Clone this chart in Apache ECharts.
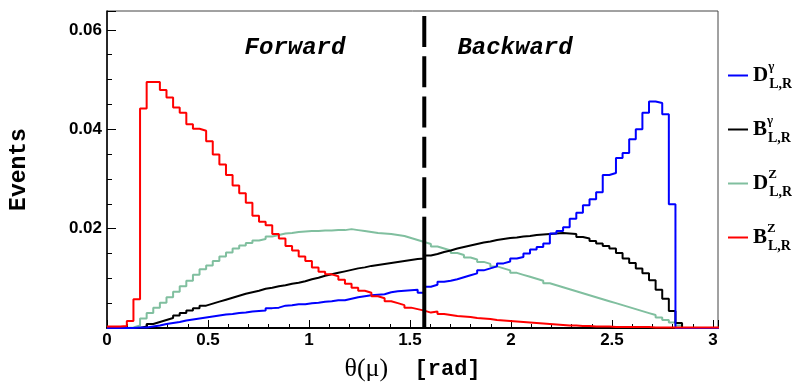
<!DOCTYPE html>
<html>
<head>
<meta charset="utf-8">
<script src="https://cdn.jsdelivr.net/npm/echarts@6/dist/echarts.min.js"></script>
<style>
  html, body { margin: 0; padding: 0; background: #fff; }
  #main { width: 792px; height: 383px; }
</style>
</head>
<body>
<div id="main"></div>
<script>
const chart = echarts.init(document.getElementById('main'))

// histogram bins: 96 bins over [0, pi], only the visible part kept
const binWidth = Math.PI / 96

const dGamma = [0,0,0,0,0.0001,0.0001,0.0003,0.0005,0.0008,0.0010,0.0012,0.0015,0.0017,0.0019,0.0021,0.0023,0.0025,0.0027,0.0028,0.0030,
  0.0031,0.0033,0.0034,0.0035,0.0040,0.0041,0.0045,0.0046,0.0048,0.0048,0.0050,0.0051,0.0053,0.0054,0.0056,0.0056,0.0059,0.0062,0.0064,0.0066,
  0.0067,0.0068,0.0072,0.0074,0.0075,0.0076,0.0077,0.0071,0.0083,0.0087,0.0093,0.0095,0.0098,0.0102,0.0106,0.0110,0.0116,0.0120,0.0124,0.0130,
  0.0134,0.0140,0.0143,0.0150,0.0158,0.0163,0.0170,0.0190,0.0195,0.0203,0.0220,0.0232,0.0247,0.0259,0.0273,0.0308,0.0312,0.0342,0.0352,0.0380,
  0.0400,0.0433,0.0456,0.0453,0.0430,0.0249,0,0,0,0,0,0,0]

const bGamma = [0,0,0,0,0,0.0003,0.0008,0.0012,0.0016,0.0020,0.0025,0.0030,0.0035,0.0040,0.0045,0.0049,0.0053,0.0057,0.0061,0.0065,
  0.0069,0.0072,0.0075,0.0079,0.0081,0.0084,0.0086,0.0089,0.0091,0.0094,0.0098,0.0101,0.0105,0.0108,0.0111,0.0114,0.0117,0.0120,0.0122,0.0125,
  0.0127,0.0129,0.0131,0.0133,0.0135,0.0137,0.0139,0.0140,0.0146,0.0149,0.0153,0.0156,0.0160,0.0163,0.0166,0.0169,0.0172,0.0174,0.0177,0.0179,
  0.0181,0.0182,0.0184,0.0185,0.0187,0.0188,0.0189,0.0190,0.0191,0.0190,0.0189,0.0183,0.0180,0.0175,0.0170,0.0165,0.0160,0.0151,0.0140,0.0131,
  0.0120,0.0110,0.0096,0.0077,0.0059,0.0034,0.0010,0,0,0,0,0,0]

const dZ = [0,0,0,0.0001,0.0005,0.0019,0.0030,0.0041,0.0051,0.0062,0.0073,0.0084,0.0095,0.0107,0.0118,0.0126,0.0135,0.0144,0.0152,0.0160,
  0.0166,0.0171,0.0176,0.0179,0.0184,0.0187,0.0190,0.0191,0.0193,0.0194,0.0195,0.0195,0.0196,0.0196,0.0197,0.0197,0.0199,0.0197,0.0195,0.0193,
  0.0191,0.0190,0.0189,0.0187,0.0185,0.0181,0.0177,0.0173,0.0169,0.0164,0.0160,0.0156,0.0151,0.0147,0.0142,0.0138,0.0133,0.0129,0.0124,0.0120,
  0.0116,0.0111,0.0107,0.0103,0.0099,0.0095,0.0090,0.0086,0.0082,0.0078,0.0074,0.0070,0.0066,0.0062,0.0058,0.0054,0.0050,0.0046,0.0042,0.0038,
  0.0034,0.0030,0.0026,0.0021,0.0016,0.0011,0.0005,0,0,0,0,0,0]

const bZ = [0.0003,0.0003,0.0004,0.0014,0.0058,0.0442,0.0495,0.0495,0.0479,0.0464,0.0444,0.0433,0.0410,0.0401,0.0397,0.0376,0.0349,0.0329,0.0308,0.0287,
  0.0271,0.0252,0.0226,0.0214,0.0207,0.0189,0.0180,0.0165,0.0156,0.0144,0.0135,0.0122,0.0113,0.0108,0.0104,0.0097,0.0089,0.0081,0.0075,0.0071,
  0.0064,0.0060,0.0054,0.0050,0.0046,0.0041,0.0038,0.0035,0.0031,0.0033,0.0028,0.0026,0.0024,0.0023,0.0022,0.0020,0.0019,0.0018,0.0016,0.0015,
  0.0014,0.0013,0.0012,0.0011,0.0010,0.0009,0.0008,0.0007,0.0006,0.0005,0.0005,0.0004,0.0004,0.0003,0.0003,0.0003,0.0002,0.0002,0.0002,0.0002,
  0.0002,0.0002,0.0001,0.0001,0.0001,0.0001,0.0001,0.0001,0.0001,0.0001,0.0001,0.0001,0.0001]

// dashed marker at pi/2 (dashed upper part, solid lower part)
const dividerX = Math.PI / 2
const dividerDashed = [0.0628, 0.0224]
const dividerSolid = [0.0224, 0]

const xTicks = [0, 0.5, 1, 1.5, 2, 2.5, 3]
const yTicks = [0.02, 0.04, 0.06]

function toSteps(vals) {
  let pts = vals.map((v, i) => [i * binWidth, v])
  pts.push([vals.length * binWidth, vals[vals.length - 1]])
  return pts
}

function isTick(list, v) {
  return list.some(t => Math.abs(t - v) < 1e-9)
}

let histo = (name, vals, color) => ({
  name: name,
  type: 'line',
  step: 'end',
  symbol: 'none',
  clip: true,
  lineStyle: { color: color, width: 2 },
  itemStyle: { color: color },
  data: toSteps(vals)
})

let option = {
  animation: false,
  backgroundColor: '#fff',
  grid: {
    left: 107, right: 74, top: 11, bottom: 55,
    outerBoundsMode: 'none',
    containLabel: false,
    show: true, borderColor: '#444', borderWidth: 1
  },
  xAxis: {
    type: 'value',
    min: 0,
    max: 3.025,
    interval: 0.5,
    axisLine: { lineStyle: { color: '#000', width: 2 } },
    axisTick: { inside: true, length: 8, lineStyle: { color: '#000' } },
    minorTick: { show: true, splitNumber: 5, length: 4, lineStyle: { color: '#000' } },
    splitLine: { show: false },
    axisLabel: {
      formatter: v => isTick(xTicks, v) ? String(v) : '',
      color: '#000', fontFamily: 'Liberation Sans', fontWeight: 'bold', fontSize: 17, margin: 4
    },
    name: '{t|θ(μ)}{r|  [rad]}',
    nameLocation: 'middle',
    nameGap: 28,
    nameTextStyle: {
      rich: {
        t: { fontFamily: 'Liberation Serif', fontSize: 26, color: '#000' },
        r: { fontFamily: 'Liberation Mono', fontWeight: 'bold', fontSize: 22, color: '#000' }
      }
    }
  },
  yAxis: {
    type: 'value',
    min: 0,
    max: 0.0638,
    interval: 0.02,
    axisLine: { show: true, lineStyle: { color: '#000', width: 1.5 } },
    axisTick: { inside: true, length: 9, lineStyle: { color: '#000' } },
    minorTick: { show: true, splitNumber: 4, length: 5, lineStyle: { color: '#000' } },
    splitLine: { show: false },
    axisLabel: {
      formatter: v => isTick(yTicks, v) ? v.toFixed(2) : '',
      showMaxLabel: false,
      color: '#000', fontFamily: 'Liberation Sans', fontWeight: 'bold', fontSize: 17, margin: 5
    },
    name: 'Events',
    nameLocation: 'middle',
    nameGap: 76,
    nameTextStyle: { fontFamily: 'Liberation Mono', fontWeight: 'bold', fontSize: 23, color: '#000' }
  },
  legend: {
    orient: 'vertical',
    left: 723,
    top: 55,
    itemGap: 22.5,
    itemWidth: 20,
    itemHeight: 2,
    icon: 'rect',
    data: ['Dγ', 'Bγ', 'DZ', 'BZ'],
    formatter: name => `{m|${name[0]}}{sup|${name.slice(1)}}{sub|L,R}`,
    textStyle: {
      rich: {
        m: { fontFamily: 'Liberation Serif', fontWeight: 'bold', fontSize: 21, color: '#000' },
        sup: { fontFamily: 'Liberation Serif', fontWeight: 'bold', fontSize: 13, color: '#000', width: 1, padding: [0, 0, 18, 0] },
        sub: { fontFamily: 'Liberation Serif', fontWeight: 'bold', fontSize: 14, color: '#000', padding: [18, 0, 0, 0] }
      }
    }
  },
  graphic: [
    { type: 'text', x: 295, y: 48, style: { text: 'Forward', align: 'center', verticalAlign: 'middle', font: 'italic bold 24px "Liberation Mono"', fill: '#000' } },
    { type: 'text', x: 515, y: 48, style: { text: 'Backward', align: 'center', verticalAlign: 'middle', font: 'italic bold 24px "Liberation Mono"', fill: '#000' } }
  ],
  series: [
    histo('DZ', dZ, '#80bf9f'),
    histo('Bγ', bGamma, '#000000'),
    histo('Dγ', dGamma, '#0000ff'),
    histo('BZ', bZ, '#ff0000'),
    {
      name: 'divider', type: 'line', symbol: 'none', silent: true,
      lineStyle: { color: '#000', width: 4, type: [31, 9.3] },
      data: dividerDashed.map(v => [dividerX, v])
    },
    {
      name: 'dividerSolid', type: 'line', symbol: 'none', silent: true,
      lineStyle: { color: '#000', width: 4 },
      data: dividerSolid.map(v => [dividerX, v])
    }
  ]
}
chart.setOption(option)
</script>
</body>
</html>
